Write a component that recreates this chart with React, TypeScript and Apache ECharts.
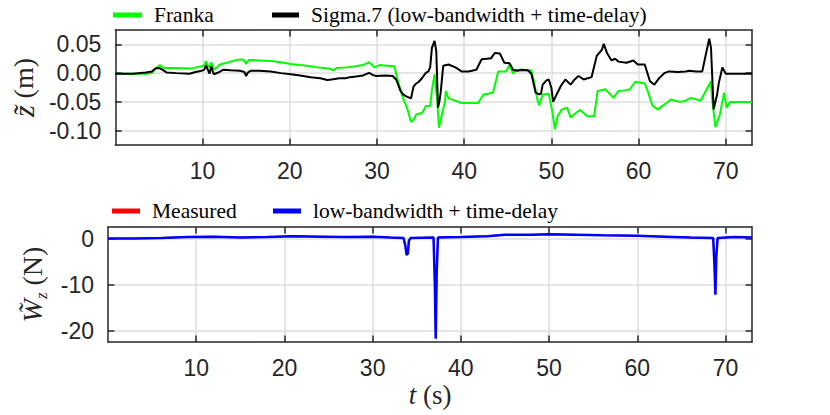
import React, { useEffect, useRef } from "react";
import * as echarts from "echarts";

// ---- data ----
const frankaZ: [number, number][] = [
  [0, -0.001], [2, -0.001], [3.5, -0.001], [4.2, 0.0], [4.6, 0.008], [5.1, 0.014], [5.4, 0.01], [5.7, 0.009],
  [7, 0.009], [8.8, 0.008], [9.3, 0.01], [9.9, 0.012], [10.2, 0.014], [10.4, 0.021], [10.6, 0.014], [10.8, 0.01],
  [11.0, 0.019], [11.15, 0.012], [11.3, 0.006], [11.6, 0.009], [12.0, 0.015], [12.8, 0.018], [13.9, 0.023],
  [14.5, 0.024], [14.8, 0.022], [15.0, 0.016], [15.3, 0.023], [16.5, 0.022], [17.8, 0.021], [19, 0.019],
  [20.1, 0.016], [21.2, 0.014], [22.4, 0.012], [23.2, 0.01], [23.9, 0.009], [24.5, 0.008], [25.0, 0.005],
  [25.4, 0.009], [26.5, 0.01], [27.5, 0.012], [28.4, 0.014], [29.1, 0.019], [29.4, 0.015], [29.7, 0.01],
  [30.3, 0.014], [31.2, 0.013], [32.0, 0.012], [32.3, -0.008], [32.9, -0.04], [33.5, -0.063], [33.9, -0.085],
  [34.2, -0.081], [34.5, -0.072], [35.2, -0.069], [35.6, -0.057], [36.1, -0.057], [36.3, -0.03], [36.6, -0.002],
  [36.9, -0.046], [37.1, -0.095], [37.4, -0.076], [37.8, -0.049], [37.9, -0.031], [38.2, -0.044], [39.7, -0.052],
  [41.6, -0.052], [42.2, -0.037], [43.3, -0.034], [43.9, 0.003], [44.8, 0.003], [45.2, 0.014], [45.6, -0.001],
  [46.0, 0.006], [46.3, 0.004], [47.7, 0.005], [48.0, -0.015], [48.4, -0.047], [48.6, -0.056], [49.0, -0.037],
  [49.7, -0.036], [50.1, -0.066], [50.4, -0.098], [50.7, -0.075], [51.2, -0.063], [51.8, -0.06], [52.2, -0.077],
  [52.9, -0.068], [53.3, -0.064], [54.1, -0.075], [54.9, -0.075], [55.3, -0.031], [56.2, -0.028], [57.1, -0.043],
  [57.7, -0.031], [58.4, -0.03], [59.0, -0.028], [59.6, -0.015], [60.7, -0.018], [61.1, -0.034], [61.6, -0.057],
  [62.2, -0.063], [63.0, -0.054], [63.7, -0.046], [64.7, -0.05], [65.2, -0.049], [66.0, -0.043], [67.1, -0.048],
  [67.7, -0.031], [68.3, -0.014], [68.4, -0.04], [68.8, -0.094], [69.3, -0.073], [69.8, -0.034], [70.1, -0.06],
  [70.5, -0.05], [73, -0.05],
];

const sigmaZ: [number, number][] = [
  [0, -0.001], [2, -0.001], [3.5, 0.001], [4.2, 0.003], [4.6, 0.008], [5.0, 0.009], [5.4, 0.006], [5.9, 0.001],
  [7, 0.0], [8.5, -0.001], [9.2, 0.002], [9.9, 0.004], [10.2, 0.006], [10.4, 0.014], [10.6, 0.006], [10.8, -0.001],
  [11.0, 0.012], [11.15, 0.004], [11.3, -0.002], [11.8, 0.001], [12.4, 0.006], [13.2, 0.005], [14.3, 0.004],
  [14.8, 0.002], [15.0, -0.005], [15.2, 0.001], [15.5, 0.004], [16.5, 0.004], [17.8, 0.003], [19, 0.0],
  [20.1, -0.002], [21.2, -0.004], [22.4, -0.007], [23.5, -0.009], [24.3, -0.012], [24.8, -0.011], [25.7, -0.009],
  [26.4, -0.009], [26.9, -0.007], [27.6, -0.006], [28.4, -0.004], [29.1, 0.0005], [29.5, -0.003], [29.9, -0.005],
  [31.0, -0.004], [31.8, -0.005], [32.2, -0.011], [32.7, -0.031], [33.0, -0.037], [33.3, -0.04], [33.9, -0.044],
  [34.2, -0.023], [34.5, -0.018], [34.8, -0.015], [35.2, -0.008], [35.6, 0.0005], [35.9, 0.003], [36.1, 0.01],
  [36.3, 0.044], [36.6, 0.056], [36.8, 0.038], [37.0, -0.06], [37.15, -0.05], [37.3, -0.034], [37.6, 0.013],
  [38.2, 0.015], [39.0, 0.01], [39.7, 0.003], [40.5, 0.003], [41.4, 0.006], [42.0, 0.024], [42.6, 0.025],
  [43.1, 0.026], [43.5, 0.035], [44.1, 0.034], [44.6, 0.018], [45.2, 0.017], [45.6, 0.006], [46.1, 0.004],
  [46.5, 0.006], [47.3, 0.005], [47.7, -0.001], [48.2, -0.034], [48.6, -0.037], [48.8, -0.036], [49.0, -0.02],
  [49.4, -0.013], [49.7, -0.011], [50.0, -0.026], [50.2, -0.05], [50.7, -0.034], [51.1, -0.022], [51.6, -0.011],
  [52.2, -0.02], [52.6, -0.012], [53.1, -0.005], [53.7, -0.011], [54.6, -0.007], [55.2, 0.03], [55.8, 0.041],
  [56.0, 0.051], [56.4, 0.034], [56.9, 0.022], [57.3, 0.025], [57.7, 0.02], [58.6, 0.018], [59.4, 0.022],
  [59.9, 0.015], [60.7, 0.015], [61.3, -0.014], [61.8, -0.02], [62.4, -0.008], [63.0, 0.0005], [63.5, 0.003],
  [64.5, 0.002], [65.4, 0.003], [65.8, 0.004], [66.6, 0.003], [67.3, 0.003], [67.7, 0.032], [68.1, 0.06],
  [68.3, 0.044], [68.6, -0.063], [69.0, -0.037], [69.2, -0.017], [69.6, 0.01], [70.0, -0.001], [71.1, -0.001],
  [73, -0.001],
];

const measuredW: [number, number][] = [
  [0, 0.02], [3, 0.02], [6, 0.12], [9, 0.32], [12, 0.42], [15, 0.22], [18, 0.32], [21, 0.52], [24, 0.42],
  [27, 0.32], [30, 0.42], [32, 0.22], [33.5, 0.12], [33.7, -1.45], [33.85, -3.55], [34.0, -3.15], [34.1, -0.45],
  [34.3, 0.12], [36.9, 0.22], [37.05, -9.9], [37.15, -21.7], [37.25, -7.9], [37.4, 0.22], [40, 0.32],
  [43, 0.52], [45, 0.82], [48, 0.82], [50, 0.92], [53, 0.82], [56, 0.72], [60, 0.62], [63, 0.42], [66, 0.22],
  [68.6, 0.12], [68.75, -5.9], [68.85, -12.1], [68.95, -3.9], [69.1, 0.12], [71, 0.32], [73, 0.22],
];

const delayedW: [number, number][] = [
  [0, 0], [3, 0.0], [6, 0.1], [9, 0.3], [12, 0.4], [15, 0.2], [18, 0.3], [21, 0.5], [24, 0.4], [27, 0.3],
  [30, 0.4], [32, 0.2], [33.5, 0.1], [33.7, -1.5], [33.85, -3.6], [34.0, -3.2], [34.1, -0.5], [34.3, 0.1],
  [36.9, 0.2], [37.05, -10], [37.15, -21.8], [37.25, -8], [37.4, 0.2], [40, 0.3], [43, 0.5], [45, 0.8],
  [48, 0.8], [50, 0.9], [53, 0.8], [56, 0.7], [60, 0.6], [63, 0.4], [66, 0.2], [68.6, 0.1], [68.75, -6],
  [68.85, -12.2], [68.95, -4], [69.1, 0.1], [71, 0.3], [73, 0.2],
];

const xTicks = [10, 20, 30, 40, 50, 60, 70];
const zTicks = [-0.1, -0.05, 0, 0.05];
const wTicks = [-20, -10, 0];
const legendTop = ["Franka", "Sigma.7 (low-bandwidth + time-delay)"];
const legendBottom = ["Measured", "low-bandwidth + time-delay"];

const AX = "#262626";
const GRID = "#dedede";
const SANS = "Liberation Sans";
const SERIF = "Liberation Serif";

export default function App() {
  const ref = useRef<HTMLDivElement>(null);
  useEffect(() => {
    document.body.style.margin = "0";
    if (!ref.current) return;
    const chart = echarts.init(ref.current, undefined, { renderer: "svg" });

    const axisLine = { show: true, onZero: false, lineStyle: { color: AX, width: 1.5 } };
    const tick = (vals: number[]) => ({
      show: true, inside: true, length: 6.4, customValues: vals, lineStyle: { color: AX, width: 1.5 },
    });
    const label = (vals: number[], fmt?: (v: number) => string) => ({
      show: true, customValues: vals, color: AX, fontFamily: SANS, fontSize: 23, margin: 14,
      formatter: fmt,
    });
    const split = { show: true, lineStyle: { color: GRID, width: 1.5 } };

    const xBase = (grid: number) => ({ type: "value", gridIndex: grid, min: 0, max: 73 });
    const legendText = { fontFamily: SERIF, fontSize: 21.5, color: "#000", padding: [0, 0, 0, 7] };

    chart.setOption({
      animation: false,
      grid: [
        { left: 108, top: 30, width: 644, height: 115 },
        { left: 108, top: 227, width: 644, height: 115 },
      ],
      legend: [
        { data: [legendTop[0]], left: 113, top: 4, padding: 0, icon: "rect", itemWidth: 29, itemHeight: 5, textStyle: legendText },
        { data: [legendTop[1]], left: 272, top: 4, padding: 0, icon: "rect", itemWidth: 27, itemHeight: 5, textStyle: legendText },
        { data: [legendBottom[0]], left: 112, top: 200, padding: 0, icon: "rect", itemWidth: 28, itemHeight: 5, textStyle: legendText },
        { data: [legendBottom[1]], left: 273, top: 200, padding: 0, icon: "rect", itemWidth: 28, itemHeight: 5, textStyle: legendText },
      ],
      xAxis: [
        { ...xBase(0), position: "bottom", axisLine, axisTick: tick(xTicks), axisLabel: label(xTicks), splitLine: { ...split } },
        { ...xBase(0), position: "top", axisLine, axisTick: tick(xTicks), axisLabel: { show: false }, splitLine: { show: false } },
        {
          ...xBase(1), position: "bottom", axisLine, axisTick: tick(xTicks), axisLabel: label(xTicks), splitLine: { ...split },
          name: "{i|t} (s)", nameLocation: "middle", nameGap: 39,
          nameTextStyle: { fontFamily: SERIF, fontSize: 27, color: AX, rich: { i: { fontFamily: SERIF, fontSize: 27, fontStyle: "italic", color: AX } } },
        },
        { ...xBase(1), position: "top", axisLine, axisTick: tick(xTicks), axisLabel: { show: false }, splitLine: { show: false } },
      ],
      yAxis: [
        {
          type: "value", gridIndex: 0, min: -0.125, max: 0.075, position: "left", axisLine, axisTick: tick(zTicks),
          axisLabel: label(zTicks, (v: number) => v.toFixed(2)), splitLine: { ...split },
          name: "{i|z\u0303} (m)", nameLocation: "middle", nameGap: 76, nameRotate: 90,
          nameTextStyle: { fontFamily: SERIF, fontSize: 28, color: AX, rich: { i: { fontFamily: SERIF, fontSize: 30, fontStyle: "italic", color: AX } } },
        },
        { type: "value", gridIndex: 0, min: -0.125, max: 0.075, position: "right", axisLine, axisTick: tick(zTicks), axisLabel: { show: false }, splitLine: { show: false } },
        {
          type: "value", gridIndex: 1, min: -22.5, max: 2.5, position: "left", axisLine, axisTick: tick(wTicks),
          axisLabel: label(wTicks), splitLine: { ...split },
          name: "{i|W\u0303}{s|z} (N)", nameLocation: "middle", nameGap: 56, nameRotate: 90,
          nameTextStyle: {
            fontFamily: SERIF, fontSize: 28, color: AX, lineHeight: 34,
            rich: {
              i: { fontFamily: SERIF, fontSize: 28, fontStyle: "italic", color: AX, lineHeight: 34 },
              s: { fontFamily: SERIF, fontSize: 17, fontStyle: "italic", color: AX, lineHeight: 34, verticalAlign: "bottom" },
            },
          },
        },
        { type: "value", gridIndex: 1, min: -22.5, max: 2.5, position: "right", axisLine, axisTick: tick(wTicks), axisLabel: { show: false }, splitLine: { show: false } },
      ],
      series: [
        { name: legendTop[0], type: "line", xAxisIndex: 0, yAxisIndex: 0, data: frankaZ, showSymbol: false, color: "#00ff00", lineStyle: { width: 2, color: "#00ff00" } },
        { name: legendTop[1], type: "line", xAxisIndex: 0, yAxisIndex: 0, data: sigmaZ, showSymbol: false, color: "#000000", lineStyle: { width: 2, color: "#000000" } },
        { name: legendBottom[0], type: "line", xAxisIndex: 2, yAxisIndex: 2, data: measuredW, showSymbol: false, color: "#ff0000", lineStyle: { width: 1.5, color: "#ff0000" } },
        { name: legendBottom[1], type: "line", xAxisIndex: 2, yAxisIndex: 2, data: delayedW, showSymbol: false, color: "#0000ff", lineStyle: { width: 2.5, color: "#0000ff" } },
      ],
    });
    return () => chart.dispose();
  }, []);
  return <div ref={ref} style={{ width: 830, height: 415 }} />;
}
